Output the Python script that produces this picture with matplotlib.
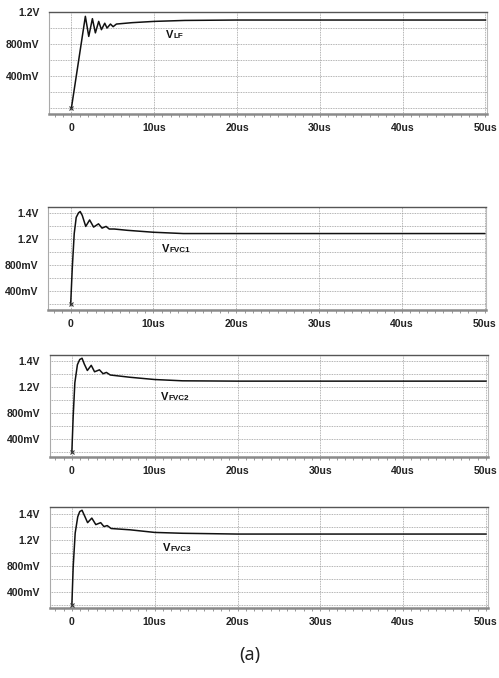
import matplotlib
matplotlib.use("Agg")
from matplotlib import pyplot as plt
from matplotlib.ticker import MultipleLocator

# time axis ticks (us)
x_ticks = [0, 10, 20, 30, 40, 50]
x_labels = ["0", "10us", "20us", "30us", "40us", "50us"]

# panel 1: V_LF
t_lf = [0, 1.69, 2.1, 2.54, 2.9, 3.3, 3.63, 4.03, 4.31, 4.72, 5.04, 5.44, 6.0, 7.3, 10, 13.7, 20, 50]
v_lf = [0, 1.146, 0.896, 1.117, 0.94, 1.083, 0.98, 1.06, 1.0, 1.05, 1.017, 1.05, 1.055, 1.067,
        1.083, 1.095, 1.1, 1.1]
yt_lf = [0.4, 0.8, 1.2]
yl_lf = ["400mV", "800mV", "1.2V"]

# panels 2-4: V_FVC1..3
t_fvc1 = [0, 0.2, 0.43, 0.67, 0.95, 1.15, 1.4, 1.82, 2.29, 2.77, 3.36, 3.79, 4.27, 4.66, 5.26,
          6.84, 10, 13.6, 20, 50]
v_fvc1 = [0.2, 0.77, 1.29, 1.54, 1.61, 1.63, 1.57, 1.40, 1.50, 1.39, 1.44, 1.374, 1.40, 1.36, 1.36,
          1.34, 1.31, 1.29, 1.29, 1.29]
t_fvc2 = [0, 0.16, 0.36, 0.67, 0.95, 1.23, 1.5, 1.87, 2.34, 2.74, 3.33, 3.77, 4.17, 4.64, 7.02,
          10, 13.37, 20, 50]
v_fvc2 = [0.2, 0.75, 1.27, 1.55, 1.63, 1.65, 1.56, 1.46, 1.54, 1.44, 1.47, 1.41, 1.43, 1.39, 1.355,
          1.32, 1.30, 1.295, 1.295]
t_fvc3 = [0, 0.16, 0.4, 0.71, 0.95, 1.23, 1.55, 1.9, 2.41, 2.89, 3.48, 3.87, 4.27, 4.74, 7.04,
          10, 13.36, 20, 50]
v_fvc3 = [0.2, 0.78, 1.30, 1.55, 1.63, 1.65, 1.56, 1.46, 1.53, 1.43, 1.46, 1.40, 1.415, 1.37, 1.35,
          1.31, 1.297, 1.285, 1.285]
yt_fvc = [0.4, 0.8, 1.2, 1.6]
yl_fvc = ["400mV", "800mV", "1.2V", "1.4V"]

FONT = "Liberation Sans"


def draw_panel(ax, t, v, ylim, yticks, ylabels, grid_start, sub, label_xy):
    ax.set_xlim(-2.7, 50.2)
    ax.set_ylim(*ylim)

    # dotted grid
    for gx in x_ticks:
        ax.axvline(gx, color="#9a9a9a", lw=0.6, ls=(0, (1, 1)), zorder=1)
    g = grid_start
    while g < ylim[1] - 0.01:
        ax.axhline(g, color="#9a9a9a", lw=0.6, ls=(0, (1, 1)), zorder=1)
        g += 0.2

    ax.plot(t, v, color="#111111", lw=1.1, zorder=3)
    ax.plot(t[0], v[0], marker="x", ms=3, mew=0.8, color="#333333", zorder=4)

    ax.set_xticks(x_ticks)
    ax.set_xticklabels(x_labels)
    ax.xaxis.set_minor_locator(MultipleLocator(1))
    ax.tick_params(axis="x", which="both", direction="out", length=2.5, width=0.6,
                   color="#888888", pad=4)
    ax.set_yticks(yticks)
    ax.set_yticklabels(ylabels)
    ax.tick_params(axis="y", length=0, pad=7)
    for lab in ax.get_xticklabels() + ax.get_yticklabels():
        lab.set_fontfamily(FONT)
        lab.set_fontweight("bold")
        lab.set_fontsize(7.5)
        lab.set_color("#222222")

    ax.spines["top"].set_color("#555555")
    ax.spines["top"].set_linewidth(1.0)
    ax.spines["left"].set_color("#aaaaaa")
    ax.spines["left"].set_linewidth(0.8)
    ax.spines["right"].set_color("#bbbbbb")
    ax.spines["right"].set_linewidth(0.8)
    ax.spines["bottom"].set_color("#8a8a8a")
    ax.spines["bottom"].set_linewidth(1.8)

    vt = ax.text(label_xy[0], label_xy[1], "V", fontfamily=FONT, fontweight="bold",
                 fontsize=8, va="center", ha="left", color="#111111", zorder=5)
    ax.annotate(sub, xy=(1, 0), xycoords=vt, xytext=(0, 0), textcoords="offset points",
                fontfamily=FONT, fontweight="bold", fontsize=5.8, va="bottom", ha="left",
                color="#111111", zorder=5)


fig = plt.figure(figsize=(4.99, 6.78), dpi=100)

ax1 = fig.add_axes([0.0982, 0.8319, 0.878, 0.1504])
draw_panel(ax1, t_lf, v_lf, (-0.07, 1.2), yt_lf, yl_lf, 0.0, "LF", (11.4, 0.91))

ax2 = fig.add_axes([0.0968, 0.5428, 0.878, 0.1519])
draw_panel(ax2, t_fvc1, v_fvc1, (0.11, 1.70), yt_fvc, yl_fvc, 0.2, "FVC1", (11.0, 1.05))

ax3 = fig.add_axes([0.0992, 0.3260, 0.878, 0.1504])
draw_panel(ax3, t_fvc2, v_fvc2, (0.12, 1.70), yt_fvc, yl_fvc, 0.2, "FVC2", (10.8, 1.05))

ax4 = fig.add_axes([0.0992, 0.1032, 0.878, 0.1490])
draw_panel(ax4, t_fvc3, v_fvc3, (0.15, 1.70), yt_fvc, yl_fvc, 0.2, "FVC3", (11.0, 1.07))

fig.text(0.5, 1 - 655 / 678, "(a)", ha="center", va="center", fontsize=13,
         fontfamily="Noto Sans", color="#222222")

fig.savefig("out.png", dpi=100)
